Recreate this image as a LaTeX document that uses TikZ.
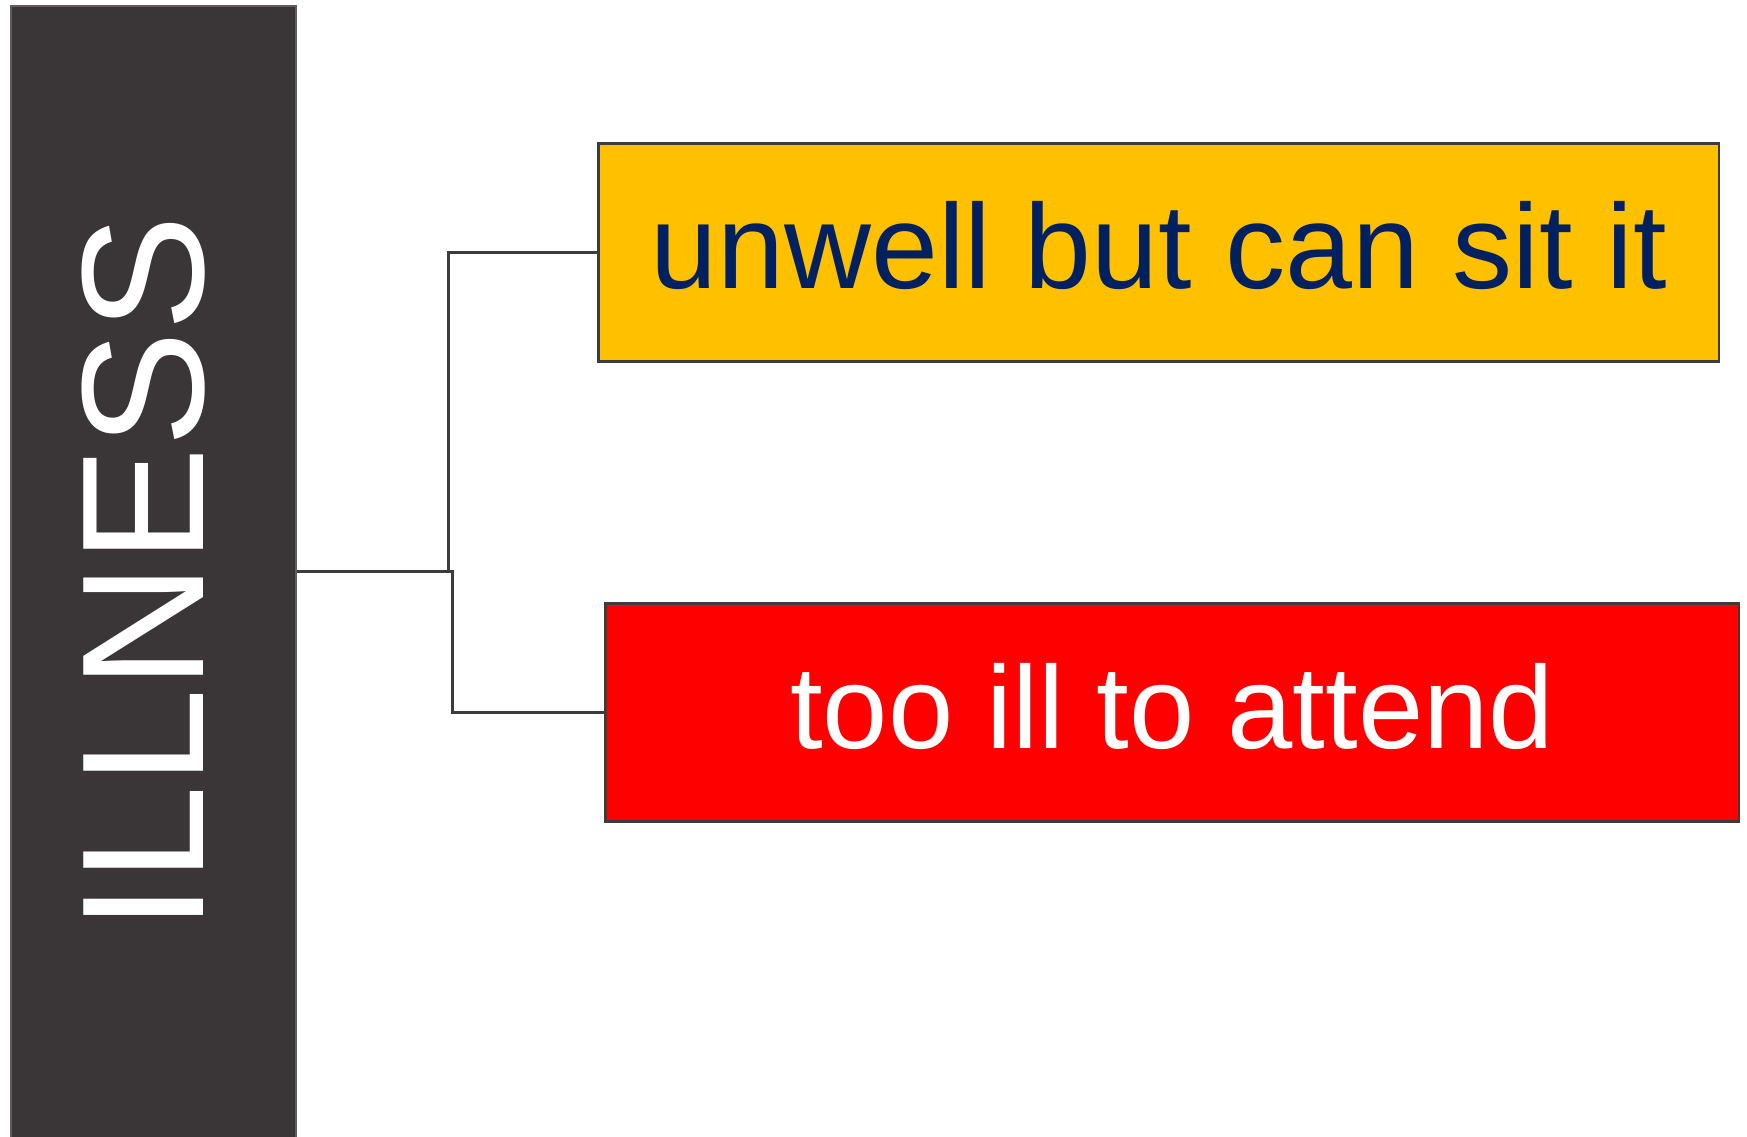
\documentclass[tikz,border=0pt]{standalone}
\usepackage{fontspec}
\setmainfont{Liberation Sans}
\usepackage{tikz}
\usetikzlibrary{positioning}
\definecolor{bargray}{HTML}{3A3536}
\definecolor{amber}{HTML}{FFC000}
\definecolor{navy}{HTML}{002060}
\definecolor{edge}{HTML}{3C3C3C}

\begin{document}
\begin{tikzpicture}[x=0.01cm, y=-0.01cm,
	  box/.style={draw=edge, line width=0.8pt, inner sep=0, minimum height=2.18cm, text height=0.87cm, text depth=0.14cm},
	  link/.style={draw=edge, line width=0.8pt}]
	  \useasboundingbox (0,0) rectangle (1747,1137);
	  \node (illness) [fill=bargray, draw=bargray!80!white, line width=0.6pt, anchor=north west, inner sep=0, minimum width=2.85cm, minimum height=11.4cm] at (10,5) {};
	  \node [rotate=90, text=white, font=\fontsize{49.5}{50}\selectfont] at (143.7,573) {ILLNESS};
	  \node (sit) [box, fill=amber, text=navy, minimum width=11.2cm, anchor=north west, font=\fontsize{34.2}{36}\selectfont] at (597,142) {unwell but can sit it};
	  \node (ill) [box, fill=red, text=white, minimum width=11.33cm, anchor=north west, font=\fontsize{33.4}{36}\selectfont] at (604,602) {too ill to attend};
	  \draw [link] (illness.east |- 0,571.5) -- ++(151,0) |- (sit.west);
	  \draw [link] (illness.east |- 0,571.5) -- ++(155,0) |- (ill.west);
	 \end{tikzpicture}
\end{document}
